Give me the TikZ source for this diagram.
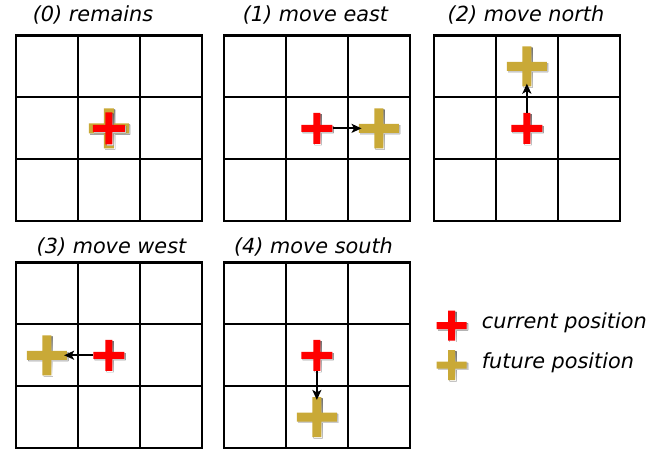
\documentclass[tikz,border=0pt]{standalone}
\usepackage{fontspec}
\setmainfont{DejaVu Sans}
\usetikzlibrary{arrows.meta}
\definecolor{gold}{RGB}{201,169,55}
\definecolor{shade}{RGB}{140,140,140}
\definecolor{crossred}{RGB}{255,0,0}
\tikzset{
  cell/.style={draw=black, line width=2.2pt, line cap=rect},
  title/.style={font=\fontsize{20.8}{25}\selectfont\itshape, inner sep=0pt, anchor=base},
  legendtext/.style={font=\fontsize{20.8}{25}\selectfont\itshape, inner sep=0pt, anchor=base west},
  move/.style={-{Stealth[length=10pt,width=9pt,inset=2.5pt]}, line width=1.8pt, shorten >=-3pt},
  spot/.style={inner sep=0pt, minimum size=#1, shape=rectangle},
}
\newcommand\drawplus[5]{%
  \node[spot=#3] (#1) at (#2) {};
  \fill[shade] ([shift={(1.3,1.3)}]#1.center) ++(-#3/2,-#4/2) rectangle ++(#3,#4)
    ([shift={(1.3,1.3)}]#1.center) ++(-#4/2,-#3/2) rectangle ++(#4,#3);
  \fill[#5] (#1.center) ++(-#3/2,-#4/2) rectangle ++(#3,#4)
    (#1.center) ++(-#4/2,-#3/2) rectangle ++(#4,#3);
}
\begin{document}
\begin{tikzpicture}[x=1pt,y=-1pt]
\useasboundingbox (0,0) rectangle (664,449);
% grids
\foreach \ox/\oy in {16/35.5, 224/35.5, 434/35.5, 16/262.4, 224/262.4}{
  \foreach \k in {0,1,2,3}{
    \draw[cell] (\ox+61.9*\k,\oy) -- (\ox+61.9*\k,\oy+185.7);
    \draw[cell] (\ox,\oy+61.9*\k) -- (\ox+185.7,\oy+61.9*\k);
  }
}
% titles
\node[title] (t0) at (93,21.7) {(0) remains};
\node[title] (t1) at (315.5,21.7) {(1) move east};
\node[title] (t2) at (526,21.7) {(2) move north};
\node[title] (t3) at (111.5,254) {(3) move west};
\node[title] (t4) at (313.5,254) {(4) move south};
% grid 0
\drawplus{g0}{108.85,128.35}{40}{10}{gold}
\drawplus{r0}{108.85,128.35}{32}{7}{crossred}
% grid 1
\drawplus{r1}{316.85,128.35}{31}{7}{crossred}
\drawplus{g1}{378.75,128.35}{40}{9}{gold}
\draw[move] (r1.east) -- (g1.west);
% grid 2
\drawplus{r2}{526.85,128.35}{31}{7}{crossred}
\drawplus{g2}{526.85,66.45}{40}{9}{gold}
\draw[move] (r2.north) -- (g2.south);
% grid 3
\drawplus{r3}{108.85,355.25}{31}{7}{crossred}
\drawplus{g3}{46.95,355.25}{40}{9}{gold}
\draw[move] (r3.west) -- (g3.east);
% grid 4
\drawplus{r4}{316.85,355.25}{31}{7}{crossred}
\drawplus{g4}{316.85,417.15}{40}{9}{gold}
\draw[move] (r4.south) -- (g4.north);
% legend
\drawplus{lr}{451.7,325.5}{30}{7}{crossred}
\drawplus{lg}{451.7,365}{30}{7}{gold}
\node[legendtext] (lt1) at (481.7,328) {current position};
\node[legendtext] (lt2) at (481.7,368) {future position};
\end{tikzpicture}
\end{document}
